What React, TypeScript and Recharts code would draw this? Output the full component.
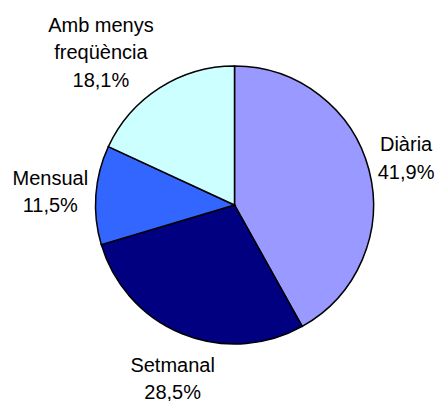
import React from 'react';
import { PieChart, Pie, Cell } from 'recharts';

const categories = ['Diària', 'Setmanal', 'Mensual', 'Amb menys freqüència'];
const labelLines = [['Diària'], ['Setmanal'], ['Mensual'], ['Amb menys', 'freqüència']];
const values = [41.9, 28.5, 11.5, 18.1];
const colors = ['#9999FF', '#000080', '#3366FF', '#CCFFFF'];

const data = categories.map((name, i) => ({ name, value: values[i] }));

// label layout nudges (pixels), styling only
const labelNudge = [
  [-1, -2],
  [8, 2],
  [-1, 0],
  [-22, 22],
];

const FONT = '"Liberation Sans", Arial, sans-serif';
const FONT_SIZE = 20;
const LINE_H = 27.5;
const GAP = 5;

let ctx: CanvasRenderingContext2D | null = null;
function measure(t: string): number {
  if (!ctx) {
    const c = document.createElement('canvas');
    ctx = c.getContext('2d');
  }
  if (!ctx) return t.length * FONT_SIZE * 0.55;
  ctx.font = `${FONT_SIZE}px ${FONT}`;
  return ctx.measureText(t).width;
}

const fmt = (v: number) => v.toFixed(1).replace('.', ',') + '%';

const renderLabel = (props: any) => {
  const { cx, cy, midAngle, outerRadius, index } = props;
  const lines = [...labelLines[index], fmt(values[index])];
  const w = Math.max(...lines.map(measure));
  const h = lines.length * LINE_H;
  const rad = (midAngle * Math.PI) / 180;
  const cos = Math.cos(rad);
  const sin = Math.sin(rad);
  const support = Math.abs((w / 2) * cos) + Math.abs((h / 2) * sin);
  const d = outerRadius + GAP + support;
  const x = cx + d * cos + labelNudge[index][0];
  const y = cy - d * sin + labelNudge[index][1];
  const y0 = y - ((lines.length - 1) / 2) * LINE_H;
  return (
    <text
      x={x}
      y={y0}
      textAnchor="middle"
      dominantBaseline="central"
      fontFamily={FONT}
      fontSize={FONT_SIZE}
      fill="#000"
    >
      {lines.map((l, i) => (
        <tspan key={i} x={x} y={y0 + i * LINE_H} dominantBaseline="central">
          {l}
        </tspan>
      ))}
    </text>
  );
};

export default function App() {
  return (
    <div style={{ position: 'absolute', left: 0, top: 0, width: 438, height: 401, background: '#fff' }}>
      <PieChart width={438} height={401} margin={{ top: 0, right: 0, bottom: 0, left: 0 }}>
        <Pie
          data={data}
          dataKey="value"
          nameKey="name"
          cx={234.5}
          cy={205}
          outerRadius={139}
          startAngle={90}
          endAngle={-270}
          stroke="#000"
          strokeWidth={1.5}
          label={renderLabel}
          labelLine={false}
          isAnimationActive={false}
        >
          {data.map((d, i) => (
            <Cell key={d.name} fill={colors[i]} />
          ))}
        </Pie>
      </PieChart>
    </div>
  );
}
